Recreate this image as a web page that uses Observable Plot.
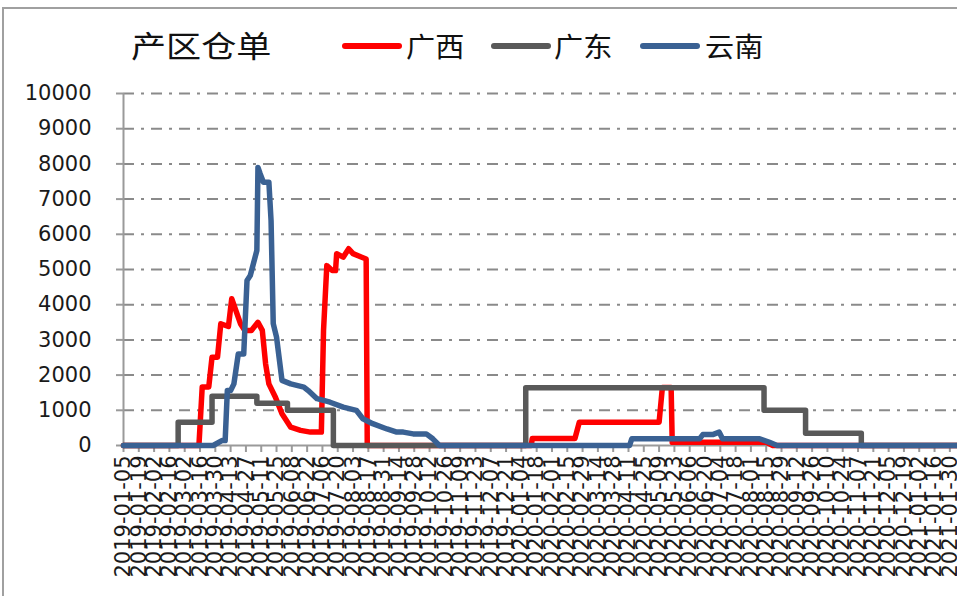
<!DOCTYPE html>
<html>
<head>
<meta charset="utf-8">
<script src="https://cdn.jsdelivr.net/npm/d3@7"></script>
<script src="https://cdn.jsdelivr.net/npm/@observablehq/plot@0.6"></script>
<style>
  html, body { margin: 0; padding: 0; background: #fff; }
  #wrap { position: relative; width: 957px; height: 596px; overflow: hidden; background: #fff; }
  #frameTop { position: absolute; left: 2px; top: 7px; width: 960px; height: 0; border-top: 2px solid #a0a0a0; }
  #frameLeft { position: absolute; left: 2px; top: 7px; width: 0; height: 600px; border-left: 2px solid #a0a0a0; }
  #chart { position: absolute; left: 0; top: 0; }
  .ttl { position: absolute; font-family: "Noto Sans CJK SC", sans-serif; color: #111; line-height: 1; white-space: nowrap; transform-origin: left center; }
  .sw { position: absolute; height: 6px; border-radius: 3px; }
  g[aria-label="x-axis tick"], g[aria-label="y-axis tick"] { stroke: #9a9a9a; stroke-width: 2px; }
</style>
</head>
<body>
<div id="wrap">
  <div id="chart"></div>
  <div id="frameTop"></div>
  <div id="frameLeft"></div>
  <div class="ttl" id="title" style="left:131px; top:29px; font-size:30px; transform:scaleX(1.17);">产区仓单</div>
  <div class="sw" style="left:342px; top:43px; width:60px; background:#ff0000;"></div>
  <div class="ttl" style="left:406px; top:32px; font-size:27px; transform:scaleX(1.08);">广西</div>
  <div class="sw" style="left:491px; top:43px; width:60px; background:#595959;"></div>
  <div class="ttl" style="left:554px; top:32px; font-size:27px; transform:scaleX(1.08);">广东</div>
  <div class="sw" style="left:640px; top:43px; width:60px; background:#3a6193;"></div>
  <div class="ttl" style="left:705px; top:32px; font-size:27px; transform:scaleX(1.08);">云南</div>
</div>
<script>
// ---- data ----
const seriesNames = ["广西", "广东", "云南"];
const seriesColors = ["#ff0000", "#595959", "#3a6193"];

const yTicks = [0, 1000, 2000, 3000, 4000, 5000, 6000, 7000, 8000, 9000, 10000];
const gridValues = [1000, 2000, 3000, 4000, 5000, 6000, 7000, 8000, 9000, 10000];

const xTickLabels = [
  "2019-01-05","2019-01-19","2019-02-02","2019-02-16","2019-03-02","2019-03-16","2019-03-30","2019-04-13",
  "2019-04-27","2019-05-11","2019-05-25","2019-06-08","2019-06-22","2019-07-06","2019-07-20","2019-08-03",
  "2019-08-17","2019-08-31","2019-09-14","2019-09-28","2019-10-12","2019-10-26","2019-11-09","2019-11-23",
  "2019-12-07","2019-12-21","2020-01-04","2020-01-18","2020-02-01","2020-02-15","2020-02-29","2020-03-14",
  "2020-03-28","2020-04-11","2020-04-25","2020-05-09","2020-05-23","2020-06-06","2020-06-20","2020-07-04",
  "2020-07-18","2020-08-01","2020-08-15","2020-08-29","2020-09-12","2020-09-26","2020-10-10","2020-10-24",
  "2020-11-07","2020-11-21","2020-12-05","2020-12-19","2021-01-02","2021-01-16","2021-01-30"
];
const xDomain = ["2019-01-05", "2021-02-06"];

// 广西 (red)
const gxDates = ["2019-01-05","2019-03-15","2019-03-18","2019-03-24","2019-03-27","2019-04-01","2019-04-04","2019-04-11",
  "2019-04-14","2019-04-22","2019-04-26","2019-05-02","2019-05-08","2019-05-12","2019-05-15","2019-05-18","2019-05-24",
  "2019-05-30","2019-06-07","2019-06-16","2019-06-25","2019-07-05","2019-07-07","2019-07-10","2019-07-15","2019-07-18",
  "2019-07-19","2019-07-25","2019-07-30","2019-08-03","2019-08-11","2019-08-15","2019-08-16","2020-01-13","2020-01-14",
  "2020-02-22","2020-02-26","2020-05-09","2020-05-12","2020-05-20","2020-05-21","2020-08-15","2020-08-21","2021-02-06"];
const gxValues = [0,0,1660,1660,2510,2510,3460,3380,
  4170,3460,3270,3270,3500,3270,2320,1750,1370,
  900,520,430,380,380,3270,5110,4970,4970,
  5450,5350,5590,5450,5350,5300,0,0,200,
  200,660,660,1650,1650,90,90,0,0];

// 广东 (gray), step changes
const gdDates = ["2019-01-05","2019-02-24","2019-03-27","2019-05-07","2019-06-04","2019-07-16",
  "2020-01-08","2020-08-13","2020-09-20","2020-11-10","2021-02-06"];
const gdValues = [0,660,1400,1200,1000,0,1640,1000,350,0,0];

// 云南 (blue)
const ynDates = ["2019-01-05","2019-03-28","2019-04-05","2019-04-08","2019-04-10","2019-04-13","2019-04-16","2019-04-20",
  "2019-04-25","2019-04-28","2019-05-01","2019-05-07","2019-05-08","2019-05-10","2019-05-13","2019-05-18","2019-05-20",
  "2019-05-22","2019-05-25","2019-05-30","2019-06-07","2019-06-19","2019-06-23","2019-07-01","2019-07-13","2019-07-25",
  "2019-08-06","2019-08-12","2019-08-21","2019-09-03","2019-09-12","2019-09-18","2019-09-27","2019-10-09","2019-10-15",
  "2019-10-21","2020-04-12","2020-04-14","2020-06-15","2020-06-18","2020-06-27","2020-07-03","2020-07-06","2020-08-09",
  "2020-08-18","2020-08-25","2021-02-06"];
const ynValues = [0,0,140,140,1560,1560,1750,2600,
  2600,4690,4830,5540,7900,7720,7480,7480,6390,
  3460,3080,1850,1750,1660,1560,1330,1230,1090,
  1000,760,620,470,380,380,330,330,190,
  0,0,190,190,310,310,380,190,190,
  90,0,0];

// ---- build ----
const parse = s => new Date(s + "T00:00:00Z");
const toRows = (dates, vals, name) => dates.map((d, i) => ({date: parse(d), value: vals[i], series: name}));
const redRows = toRows(gxDates, gxValues, seriesNames[0]);
const grayRows = toRows(gdDates, gdValues, seriesNames[1]);
const blueRows = toRows(ynDates, ynValues, seriesNames[2]);
const x0 = parse(xDomain[0]), x1 = parse(xDomain[1]);

const chart = Plot.plot({
  width: 957,
  height: 596,
  marginLeft: 123,
  marginRight: 0,
  marginTop: 93,
  marginBottom: 151,
  style: {fontFamily: "DejaVu Sans", fontSize: "21px", color: "#1a1a1a", background: "transparent", overflow: "visible"},
  x: {type: "utc", domain: [x0, x1], ticks: xTickLabels.map(parse), tickFormat: d3.utcFormat("%Y-%m-%d"),
      tickRotate: -90, tickSize: 7, tickPadding: 3, label: null},
  y: {domain: [0, 10000], ticks: yTicks, tickSize: 7, tickPadding: 25, label: null, tickFormat: d => String(d)},
  marks: [
    Plot.ruleY(gridValues, {stroke: "#8a8a8a", strokeWidth: 2, strokeDasharray: "11,7,3,7"}),
    Plot.ruleX([x0], {y1: 0, y2: 10000, stroke: "#9a9a9a", strokeWidth: 2}),
    Plot.ruleY([0], {stroke: "#9a9a9a", strokeWidth: 2}),
    Plot.line(redRows, {x: "date", y: "value", stroke: seriesColors[0], strokeWidth: 5.5, strokeLinejoin: "round", strokeLinecap: "round"}),
    Plot.line(grayRows, {x: "date", y: "value", stroke: seriesColors[1], strokeWidth: 5.5, curve: "step-after", strokeLinejoin: "round"}),
    Plot.line(blueRows, {x: "date", y: "value", stroke: seriesColors[2], strokeWidth: 5.5, strokeLinejoin: "round", strokeLinecap: "round"})
  ]
});
document.getElementById("chart").appendChild(chart);
</script>
</body>
</html>
